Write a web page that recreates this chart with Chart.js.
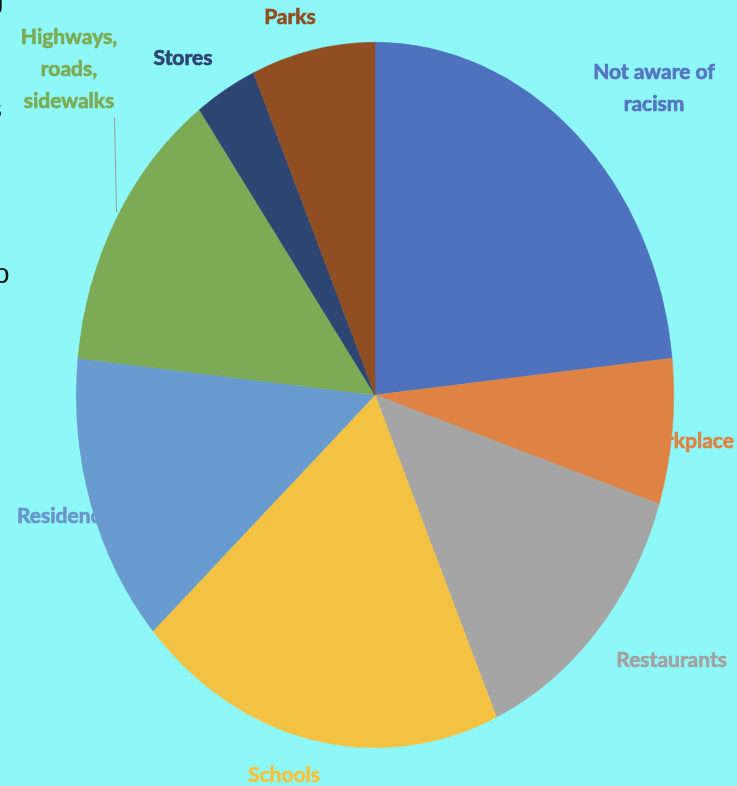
<!DOCTYPE html>
<html>
<head>
<meta charset="utf-8">
<script src="https://cdn.jsdelivr.net/npm/chart.js@4"></script>
<style>
  html, body { margin: 0; padding: 0; background: #8ef8f8; }
  #wrap { position: relative; width: 737px; height: 786px; }
</style>
</head>
<body>
<div id="wrap"><canvas id="pie"></canvas></div>
<script>
// data (counts, 30 answers in total)
const places = ['Not aware of racism', 'Workplace', 'Restaurants', 'Schools',
                'Residences', 'Highways, roads, sidewalks', 'Stores', 'Parks'];
const answers = [7, 2, 4, 6, 4, 4, 1, 2];
const sliceColors = ['#4f72be', '#df8344', '#a5a5a5', '#f4c243',
                     '#6a9bd0', '#7dab55', '#2e4473', '#904e23'];
const labelColors = ['#5574c2', '#df8344', '#a2a2a2', '#f4c243',
                     '#6a95cc', '#7dab55', '#2e4473', '#904e23'];

// where the outside labels sit (lines of text, anchor, alignment)
const labelSpots = [
  { lines: ['Not aware of', 'racism'], x: 654, y: 72, align: 'center' },
  { lines: ['Workplace'], x: 734, y: 441, align: 'right' },
  { lines: ['Restaurants'], x: 727, y: 660, align: 'right' },
  { lines: ['Schools'], x: 284, y: 775, align: 'center' },
  { lines: ['Residences'], x: 17, y: 516, align: 'left' },
  { lines: ['Highways,', 'roads,', 'sidewalks'], x: 69, y: 37, align: 'center' },
  { lines: ['Stores'], x: 183, y: 58, align: 'center' },
  { lines: ['Parks'], x: 290, y: 17, align: 'center' }
];

const stretchY = 353 / 299; // the pie in the slide is taller than wide

const ovalPie = {
  id: 'ovalPie',
  beforeDatasetsDraw(chart) {
    const ctx = chart.ctx;
    // labels first, the pie covers part of some of them
    ctx.save();
    ctx.font = 'bold 21px Lato, "Liberation Sans", sans-serif';
    ctx.textBaseline = 'middle';
    ctx.lineWidth = 0.7;
    labelSpots.forEach((spot, i) => {
      ctx.fillStyle = labelColors[i];
      ctx.strokeStyle = labelColors[i];
      ctx.textAlign = spot.align;
      spot.lines.forEach((line, k) => {
        ctx.fillText(line, spot.x, spot.y + k * 32);
        ctx.strokeText(line, spot.x, spot.y + k * 32);
      });
    });
    // leader line for the highways label
    ctx.strokeStyle = '#9a9a9a';
    ctx.lineWidth = 1;
    ctx.beginPath();
    ctx.moveTo(114.5, 117);
    ctx.lineTo(116.5, 212);
    ctx.stroke();
    // bits of slide text peeking in at the left edge
    ctx.fillStyle = '#111';
    ctx.font = '28px "Liberation Sans", sans-serif';
    ctx.textAlign = 'left';
    ctx.fillText('s', -12, 110);
    ctx.fillText('o', -6, 275);
    ctx.fillText('g', -12, 0);
    ctx.restore();

    const arc = chart.getDatasetMeta(0).data[0];
    ctx.save();
    ctx.translate(arc.x, arc.y);
    ctx.scale(1, stretchY);
    ctx.translate(-arc.x, -arc.y);
  },
  afterDatasetsDraw(chart) {
    chart.ctx.restore();
  }
};

new Chart(document.getElementById('pie'), {
  type: 'pie',
  data: {
    labels: places,
    datasets: [{
      data: answers,
      backgroundColor: sliceColors,
      borderColor: sliceColors,
      borderWidth: 0.5
    }]
  },
  options: {
    responsive: true,
    maintainAspectRatio: false,
    animation: false,
    layout: { padding: { left: 76, right: 63, top: 96, bottom: 92 } },
    plugins: {
      legend: { display: false },
      tooltip: { enabled: false }
    }
  },
  plugins: [ovalPie]
});
</script>
</body>
</html>
